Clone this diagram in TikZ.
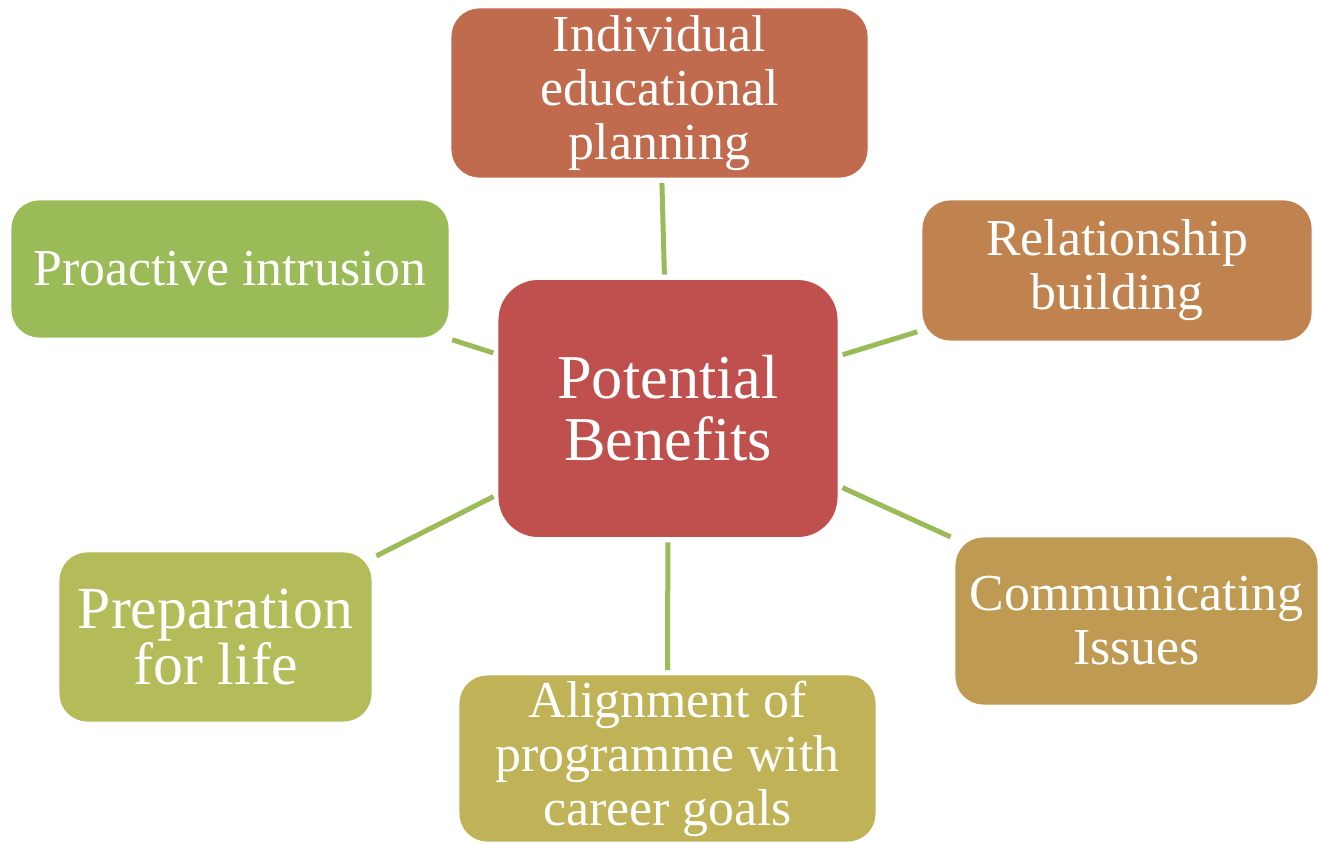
\documentclass[tikz,border=0pt]{standalone}
\usepackage{fontspec}
\setmainfont{Liberation Serif}
\usetikzlibrary{positioning}
\definecolor{benefitred}{RGB}{192,80,77}
\definecolor{plancolor}{RGB}{192,106,78}
\definecolor{relcolor}{RGB}{192,131,80}
\definecolor{commcolor}{RGB}{190,154,82}
\definecolor{aligncolor}{RGB}{191,178,87}
\definecolor{prepcolor}{RGB}{180,188,89}
\definecolor{leafgreen}{RGB}{155,187,89}

\begin{document}
\begin{tikzpicture}[x=0.02cm, y=-0.02cm,
  box/.style={rounded corners=0.56cm, text=white, align=center, inner sep=0pt,
    draw=white, line width=0.5pt, font=\fontsize{29.5}{30.7}\selectfont},
  link/.style={draw=leafgreen, line width=0.1cm, shorten <=0.09cm, shorten >=0.09cm}]
  \useasboundingbox (0,0) rectangle (1318,844);
  % hub
  \node[box, fill=benefitred, minimum width=6.8cm, minimum height=5.16cm,
    rounded corners=0.8cm, font=\fontsize{35.5}{35.3}\selectfont] (cen) at (668,408.5) {Potential\\Benefits};
  % satellites
  \node[box, fill=plancolor, minimum width=8.34cm, minimum height=3.4cm] (plan) at (659.5,93) {Individual\\educational\\planning};
  \node[box, fill=relcolor, minimum width=7.8cm, minimum height=2.82cm] (rel) at (1117,270.5) {Relationship\\building};
  \node[box, fill=commcolor, minimum width=7.26cm, minimum height=3.36cm] (comm) at (1136.5,621) {Communicating\\Issues};
  \node[box, fill=aligncolor, minimum width=8.34cm, minimum height=3.34cm] (align) at (667.5,758.5) {Alignment of\\programme with\\career goals};
  \node[box, fill=prepcolor, minimum width=6.26cm, minimum height=3.4cm,
    font=\fontsize{34}{31.5}\selectfont] (prep) at (215.5,637) {Preparation\\for life};
  \node[box, fill=leafgreen, minimum width=8.76cm, minimum height=2.76cm] (pro) at (230,269) {Proactive intrusion};
  % spokes
  \foreach \leaf in {plan, rel, comm, align, prep, pro}
    \draw[link] (cen) -- (\leaf);
\end{tikzpicture}
\end{document}
